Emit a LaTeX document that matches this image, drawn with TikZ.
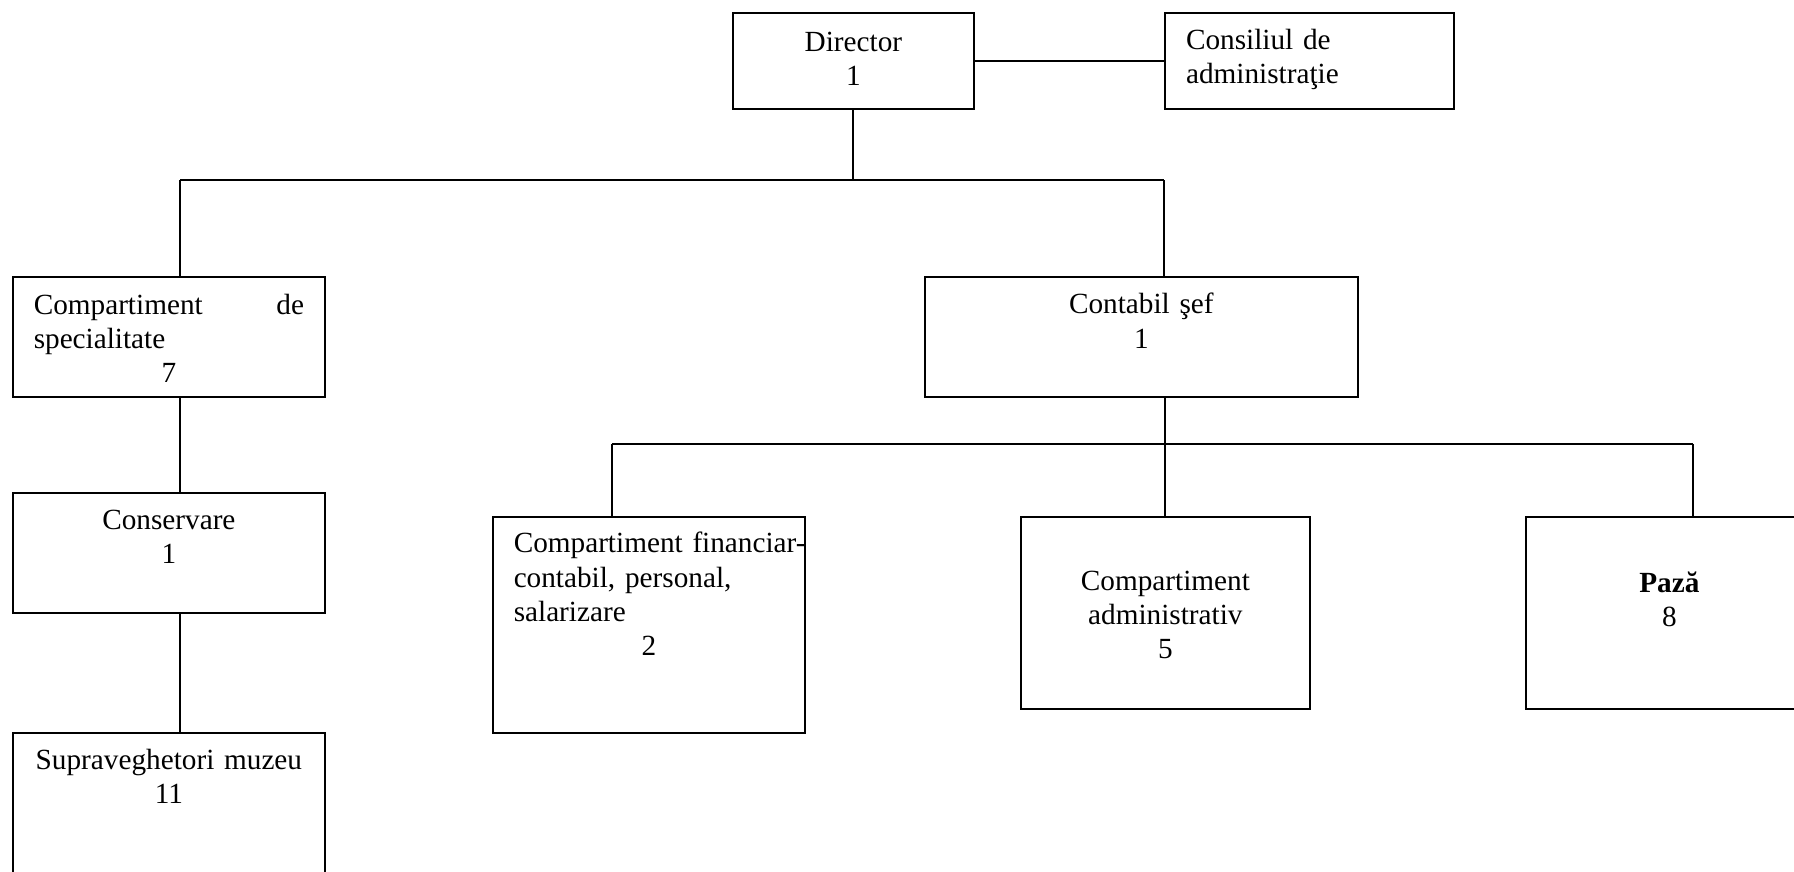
\documentclass[tikz,border=0pt]{standalone}
\usepackage{fontspec}
\setmainfont{Liberation Serif}
\usepackage{tikz}

\begin{document}
\begin{tikzpicture}[x=1pt, y=-1pt, line width=0.8pt]
        \tikzstyle{every node} = [font=\fontsize{11.7}{13.7}\selectfont]
        \tikzstyle{cutie} = [draw, anchor=north west, inner ysep=0pt, inner xsep=8.4pt, align=center]
        \tikzstyle{cutiest} = [cutie, align=left]

        \useasboundingbox (0,0) rectangle (717.6,348.4);
        \clip (0,0) rectangle (717.6,348.4);

        \def\bus{72}
        \def\busb{177.5}

        \node[cutie, text width=79.5pt, text height=15.3pt, text depth=23.1pt] (dir) at (292.8,4.7) {Director\\1};
        \node[cutiest, text width=98.7pt, text height=14.6pt, text depth=23.8pt] (cons) at (465.6,4.7) {Consiliul de\\administraţie};

        \node[cutiest, text width=108.1pt, text height=14.8pt, text depth=33.2pt] (spec) at (4.7,110.4) {Compartiment\hfill de\\specialitate\\\hfill 7\hfill\null};
        \node[cutie, text width=156.3pt, text height=14.8pt, text depth=33.2pt] (ctb) at (369.6,110.3) {Contabil şef\\1};

        \node[cutie, text width=108.1pt, text height=14.5pt, text depth=33.6pt] (conserv) at (4.7,196.7) {Conservare\\1};
        \node[cutie, text width=108.1pt, text height=14.5pt, text depth=65.5pt] (superv) at (4.7,292.7) {Supraveghetori muzeu\\11};

        \node[cutiest, text width=108.2pt, text height=14.3pt, text depth=72pt] (fin) at (196.7,206.4) {\mbox{Compartiment financiar-}\\contabil, personal,\\salarizare\\\hfill 2\hfill\null};
        \node[cutie, text width=98.7pt, text height=29.4pt, text depth=47.4pt] (adm) at (408,206.3) {Compartiment\\administrativ\\5};
        \node[cutie, text width=98.1pt, text height=30.1pt, text depth=46.7pt] (paza) at (609.9,206.3) {\textbf{Pază}\\8};

        % primul nivel
        \coordinate (ndir) at (dir.south |- 0,\bus);
        \coordinate (nspec) at (72,\bus);
        \coordinate (nctb) at (cons.west |- 0,\bus);
        \draw (dir) -- (cons);
        \draw (dir.south) -- (ndir);
        \draw (nspec) -- (nctb);
        \draw (nspec) -- (nspec |- spec.north);
        \draw (nctb) -- (nctb |- ctb.north);
        \draw (nspec |- spec.south) -- (nspec |- conserv.north);
        \draw (nspec |- conserv.south) -- (nspec |- superv.north);

        % al doilea nivel
        \coordinate (nfin) at (244.8,\busb);
        \coordinate (npaza) at (677.1,\busb);
        \draw (nfin) -- (npaza);
        \draw (adm.north |- ctb.south) -- (adm.north);
        \draw (nfin) -- (nfin |- fin.north);
        \draw (npaza) -- (npaza |- paza.north);
    \end{tikzpicture}
\end{document}
